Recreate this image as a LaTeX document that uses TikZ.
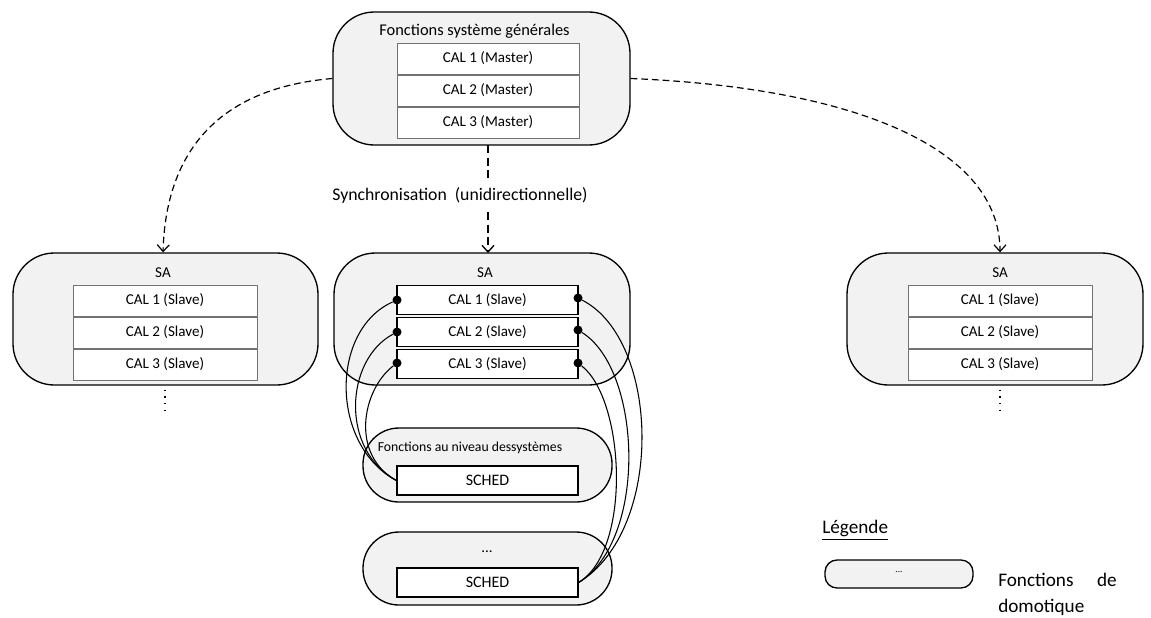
\documentclass[tikz,border=0pt]{standalone}
\usepackage{fontspec}
\setmainfont{Carlito}
\usetikzlibrary{arrows.meta}
\definecolor{cfill}{HTML}{F2F2F2}
\begin{document}
\begin{tikzpicture}[x=0.75pt,y=-0.75pt,
  cont/.style={draw=black, line width=1pt, fill=cfill, rounded corners=31pt, inner sep=0pt},
  smallcont/.style={cont, rounded corners=27pt},
  graybox/.style={draw=black!55, line width=0.6pt, fill=white, minimum width=182*0.75pt, minimum height=31*0.75pt, inner sep=0pt, font=\fontsize{11.3}{13}\selectfont},
  blackbox/.style={draw=black, line width=0.9pt, fill=white, minimum width=181*0.75pt, minimum height=29*0.75pt, inner sep=0pt, font=\fontsize{11.3}{13}\selectfont},
  lbl/.style={inner sep=0pt, font=\fontsize{11.3}{13}\selectfont},
  legtext/.style={inner sep=0pt, font=\fontsize{14.4}{16}\selectfont},
  dotn/.style={circle, fill=black, inner sep=0pt, minimum size=9*0.75pt},
  curve/.style={line width=0.8pt},
  sidedash/.style={line width=0.9pt, dash pattern=on 5pt off 3pt, -{Straight Barb[length=5pt,width=9pt,line width=0.9pt]}},
]
\useasboundingbox (0,0) rectangle (1151,617);
% containers
\node[cont, minimum width=297*0.75pt, minimum height=133*0.75pt] (top) at (481.5,78.5) {};
\node[cont, minimum width=305*0.75pt, minimum height=132*0.75pt] (lsa) at (165.5,319) {};
\node[cont, minimum width=296*0.75pt, minimum height=132*0.75pt] (msa) at (482,319) {};
\node[cont, minimum width=296*0.75pt, minimum height=132*0.75pt] (rsa) at (995,319) {};
\node[smallcont, minimum width=249*0.75pt, minimum height=74*0.75pt] (fn) at (487.5,465) {};
\node[smallcont, minimum width=249*0.75pt, minimum height=73*0.75pt] (fx) at (487.5,568.5) {};
\node[cont, rounded corners=9pt, minimum width=148*0.75pt, minimum height=28*0.75pt] (leg) at (899,574) {};
% labels
\node[lbl, font=\fontsize{12.3}{14}\selectfont] (ltop) at (474.5,31) {Fonctions système générales};
\node[lbl] (llsa) at (163,273) {SA};
\node[lbl] (lmsa) at (485,273) {SA};
\node[lbl] (lrsa) at (1000,273) {SA};
\node[lbl, font=\fontsize{10.3}{12}\selectfont] (lfn) at (470,448) {Fonctions au niveau dessystèmes};
\node[lbl] (lfx) at (487,552) {...};
\node[lbl, font=\fontsize{7}{9}\selectfont] (lleg) at (899,572) {...};
% master boxes
\node[graybox] (m1) at (488,58.5) {CAL 1 (Master)};
\node[graybox] (m2) at (488,90.5) {CAL 2 (Master)};
\node[graybox] (m3) at (488,122.5) {CAL 3 (Master)};
% left slaves
\node[graybox, minimum width=184*0.75pt] (l1) at (165,300.5) {CAL 1 (Slave)};
\node[graybox, minimum width=184*0.75pt] (l2) at (165,332.5) {CAL 2 (Slave)};
\node[graybox, minimum width=184*0.75pt] (l3) at (165,364.5) {CAL 3 (Slave)};
% right slaves
\node[graybox, minimum width=184*0.75pt] (r1) at (1000,300.5) {CAL 1 (Slave)};
\node[graybox, minimum width=184*0.75pt] (r2) at (1000,332.5) {CAL 2 (Slave)};
\node[graybox, minimum width=184*0.75pt] (r3) at (1000,364.5) {CAL 3 (Slave)};
% middle slaves
\node[blackbox] (s1) at (487.5,300) {CAL 1 (Slave)};
\node[blackbox] (s2) at (487.5,332) {CAL 2 (Slave)};
\node[blackbox] (s3) at (487.5,364) {CAL 3 (Slave)};
% sched
\node[blackbox, font=\fontsize{12}{14}\selectfont] (sc1) at (487.5,480.5) {SCHED};
\node[blackbox, font=\fontsize{12}{14}\selectfont] (sc2) at (487.5,582.5) {SCHED};
% dots
\node[dotn] (a1) at (397,300) {};
\node[dotn] (a2) at (397,332) {};
\node[dotn] (a3) at (397,363) {};
\node[dotn] (b1) at (578,298) {};
\node[dotn] (b2) at (578,330) {};
\node[dotn] (b3) at (578,363) {};
% sync
\node[inner sep=0pt, font=\fontsize{13.3}{15}\selectfont] (sync) at (460,195) {Synchronisation\ \ (unidirectionnelle)};
\coordinate (t1) at (488,145);
\coordinate (t2) at (488,180);
\coordinate (t3) at (488,212);
\coordinate (t4) at (488,253);
\draw[line width=2pt, dash pattern=on 6pt off 3.5pt] (t1) -- (t2);
\draw[line width=2pt, dash pattern=on 6pt off 3.5pt, -{Straight Barb[length=5pt,width=9pt,line width=1pt]}] (t3) -- (t4);
% side dashed curves
\draw[sidedash] (top.west) .. controls (220,88) and (166,150) .. (lsa.north -| llsa);
\draw[sidedash] (top.east) .. controls (860,88) and (1000,150) .. (rsa.north -| lrsa);
% left curves
\draw[curve] (a1) .. controls (330,330) and (330,445) .. (sc1.west);
\draw[curve] (a2) .. controls (345,360) and (340,450) .. (sc1.west);
\draw[curve] (a3) .. controls (362,390) and (350,455) .. (sc1.west);
% right curves
\draw[curve] (b1) .. controls (660,340) and (665,530) .. (sc2.east);
\draw[curve] (b2) .. controls (642,370) and (648,540) .. (sc2.east);
\draw[curve] (b3) .. controls (625,400) and (632,550) .. (sc2.east);
% dotted continuations
\draw[line width=1pt, dash pattern=on 1pt off 4pt] (l3.south |- lsa.south) ++(0,4) coordinate (ld1) -- ++(0,24) coordinate (ld2);
\draw[line width=1pt, dash pattern=on 1pt off 4pt] (r3.south |- rsa.south) ++(0,4) coordinate (rd1) -- ++(0,24) coordinate (rd2);
% legend
\node[legtext, anchor=west] (legt) at (822,530) {\underline{Légende}};
\node[legtext, anchor=west] (lf1) at (998,580) {Fonctions};
\node[legtext, anchor=east] (lf2) at (1117,580) {de};
\node[legtext, anchor=west] (lf3) at (998,607) {domotique};
\end{tikzpicture}
\end{document}
